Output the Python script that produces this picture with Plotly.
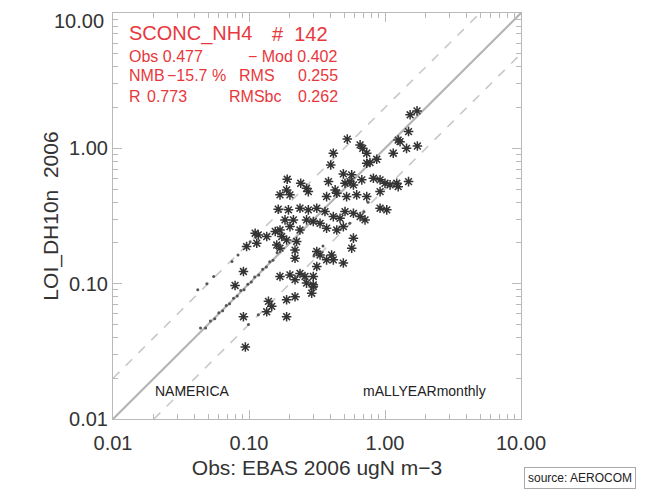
import plotly.graph_objects as go

# station points (obs, model), ugN m-3
obs = [0.528, 0.417, 0.656, 0.686, 0.734, 1.25, 1.29, 1.49, 1.44, 1.73,
       1.15, 0.734, 0.776, 0.399, 0.869, 0.191, 0.240, 0.384, 0.494, 0.569,
       0.508, 0.553, 0.586, 0.675, 0.822, 0.92, 1.00, 1.09, 1.22, 1.25,
       1.49, 0.265, 0.273, 0.189, 0.169, 0.200, 0.430, 0.442, 0.372, 0.522,
       0.619, 0.734, 0.92, 0.164, 0.195, 0.237, 0.273, 0.315, 0.362, 0.417,
       0.467, 0.508, 0.586, 0.656, 0.713, 0.92, 1.03, 0.184, 0.212, 0.169,
       0.200, 0.237, 0.265, 0.297, 0.333, 0.372, 0.442, 0.494, 0.111, 0.117,
       0.135, 0.156, 0.174, 0.189, 0.224, 0.096, 0.114, 0.160, 0.169, 0.218,
       0.218, 0.315, 0.333, 0.405, 0.417, 0.372, 0.494, 0.569, 0.586, 0.091,
       0.169, 0.200, 0.237, 0.218, 0.258, 0.297, 0.265, 0.297, 0.315, 0.079,
       0.139, 0.147, 0.135, 0.189, 0.218, 0.289, 0.297, 0.091, 0.189, 0.094,
       1.53, 1.72]
mod = [1.17, 0.92, 1.06, 1.00, 0.92, 1.15, 1.12, 1.33, 1.00, 1.04,
       0.92, 0.776, 0.785, 0.754, 0.83, 0.591, 0.552, 0.568, 0.647, 0.637,
       0.552, 0.568, 0.537, 0.585, 0.601, 0.585, 0.552, 0.537, 0.552, 0.521,
       0.568, 0.507, 0.479, 0.493, 0.453, 0.453, 0.493, 0.466, 0.44, 0.44,
       0.453, 0.44, 0.479, 0.355, 0.351, 0.361, 0.351, 0.361, 0.341, 0.313,
       0.304, 0.341, 0.331, 0.313, 0.296, 0.361, 0.351, 0.296, 0.296, 0.249,
       0.264, 0.249, 0.296, 0.288, 0.279, 0.257, 0.249, 0.264, 0.236, 0.229,
       0.223, 0.243, 0.223, 0.210, 0.205, 0.188, 0.199, 0.193, 0.183, 0.177,
       0.154, 0.173, 0.163, 0.163, 0.150, 0.150, 0.142, 0.183, 0.217, 0.123,
       0.113, 0.116, 0.119, 0.107, 0.113, 0.113, 0.101, 0.098, 0.134, 0.097,
       0.074, 0.068, 0.062, 0.076, 0.080, 0.085, 0.095, 0.057, 0.057, 0.034,
       1.77, 1.89]

# small dots (low-weight points) along the reference lines
dot_obs = [0.044, 0.048, 0.052, 0.056, 0.060, 0.064, 0.068, 0.072, 0.077, 0.082,
           0.087, 0.092, 0.098, 0.104, 0.110, 0.118, 0.126, 0.134, 0.142, 0.150,
           0.161, 0.042, 0.049, 0.055, 0.075, 0.083, 0.096, 0.102, 0.099, 0.117,
           0.30, 0.35, 0.55, 0.70, 0.75]
dot_mod = [0.047, 0.047, 0.053, 0.055, 0.061, 0.063, 0.069, 0.071, 0.078, 0.081,
           0.089, 0.090, 0.099, 0.103, 0.112, 0.116, 0.128, 0.133, 0.145, 0.149,
           0.169, 0.090, 0.100, 0.113, 0.146, 0.163, 0.193, 0.204, 0.050, 0.059,
           0.16, 0.19, 0.28, 0.34, 0.40]

line_x = [0.01, 10.0]
one_to_one = [0.01, 10.0]
upper_x = [0.01, 5.0]
upper_y = [0.02, 10.0]
lower_x = [0.02, 10.0]
lower_y = [0.01, 5.0]

major_ticks = [0.01, 0.1, 1.0, 10.0]
x_tick_text = ["0.01", "0.10", "1.00", "10.00"]
# the top y label sits a little below the frame, drawn as an annotation
y_tick_text = ["0.01", "0.10", "1.00", ""]
minor_ticks = [m * d for d in [0.01, 0.1, 1.0] for m in range(2, 10)]

RED = "#e8383d"
GREY = "#b9b9b9"
FONT = "Liberation Sans, Arial"

fig = go.Figure()
fig.add_trace(go.Scatter(x=line_x, y=one_to_one, mode="lines",
                         line=dict(color="#b4b4b4", width=2.2)))
fig.add_trace(go.Scatter(x=upper_x, y=upper_y, mode="lines",
                         line=dict(color="#c8c8c8", width=1.6, dash="dash")))
fig.add_trace(go.Scatter(x=lower_x, y=lower_y, mode="lines",
                         line=dict(color="#c8c8c8", width=1.6, dash="dash")))
fig.add_trace(go.Scatter(x=dot_obs, y=dot_mod, mode="markers",
                         marker=dict(size=3, color="#555")))
fig.add_trace(go.Scatter(x=obs, y=mod, mode="markers",
                         marker=dict(symbol="asterisk-open", size=8, color="#333",
                                     line=dict(color="#333", width=1.5))))

axis_common = dict(
    type="log", range=[-2, 1], tickvals=major_ticks,
    ticks="inside", ticklen=9, tickwidth=1, tickcolor=GREY,
    minor=dict(tickvals=minor_ticks, ticks="inside", ticklen=5, tickcolor=GREY),
    showline=True, linecolor=GREY, linewidth=1, mirror="ticks",
    showgrid=False, zeroline=False, automargin=False, ticklabeloverflow="allow",
    tickfont=dict(family=FONT, size=20, color="#333"),
)
fig.update_xaxes(**axis_common, ticktext=x_tick_text, ticklabelstandoff=6,
                 title=dict(text="Obs: EBAS 2006 ugN m\u22123", standoff=7,
                            font=dict(family=FONT, size=21, color="#333")))
fig.update_yaxes(**axis_common, ticktext=y_tick_text,
                 title=dict(text="LOI_DH10n  2006", standoff=4,
                            font=dict(family=FONT, size=21, color="#333")))

def px_x(p):
    return (p - 113) / 408

def px_y(p):
    return (419 - p) / 406

labels = [
    ("SCONC_NH4", 127, 34, "left", 20),
    ("#  142", 270, 34, "left", 20),
    ("Obs 0.477", 127, 57, "left", 16),
    ("\u2212 Mod 0.402", 340, 57, "right", 16),
    ("NMB", 127, 75, "left", 16),
    ("\u221215.7 %", 165, 75, "left", 16),
    ("RMS", 237, 75, "left", 16),
    ("0.255", 340, 75, "right", 16),
    ("R", 127, 96, "left", 16),
    ("0.773", 145, 96, "left", 16),
    ("RMSbc", 227, 96, "left", 16),
    ("0.262", 340, 96, "right", 16),
]
for txt, x, y, anchor, size in labels:
    fig.add_annotation(text=txt, x=px_x(x), y=px_y(y), xref="paper", yref="paper",
                       xanchor=anchor, yanchor="middle", showarrow=False,
                       font=dict(family=FONT, size=size, color=RED))

fig.add_annotation(text="10.00", x=px_x(106), y=px_y(21), xref="paper", yref="paper",
                   xanchor="right", yanchor="middle", showarrow=False,
                   font=dict(family=FONT, size=20, color="#333"))
fig.add_annotation(text="NAMERICA", x=px_x(153), y=px_y(391), xref="paper", yref="paper",
                   xanchor="left", yanchor="middle", showarrow=False,
                   font=dict(family=FONT, size=14, color="#222"))
fig.add_annotation(text="mALLYEARmonthly", x=px_x(488), y=px_y(391), xref="paper", yref="paper",
                   xanchor="right", yanchor="middle", showarrow=False,
                   font=dict(family=FONT, size=14, color="#222"))
fig.add_annotation(text="source: AEROCOM", x=px_x(580), y=px_y(478), xref="paper", yref="paper",
                   xanchor="center", yanchor="middle", showarrow=False,
                   bordercolor="#aaa", borderwidth=1, borderpad=3, bgcolor="white",
                   font=dict(family=FONT, size=12, color="#222"))

# page body keeps an 8px margin, so the figure is 8px smaller than the window
fig.update_layout(
    width=642, height=486,
    margin=dict(l=105, r=129, t=5, b=75),
    plot_bgcolor="white", paper_bgcolor="white",
    showlegend=False,
)

fig.write_html("out.html")
